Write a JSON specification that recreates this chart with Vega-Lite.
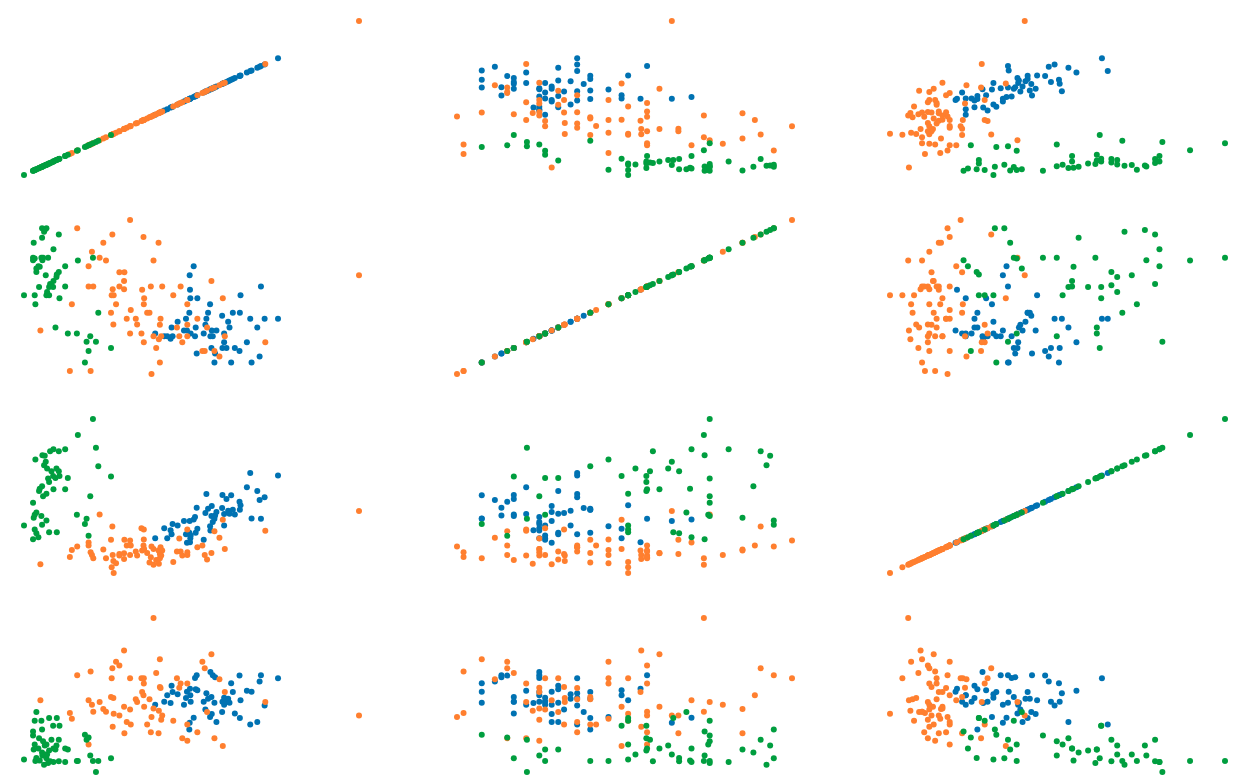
{
  "$schema": "https://vega.github.io/schema/vega-lite/v6.json",
  "padding": {"left": 21, "top": 18, "right": 0, "bottom": 0},
  "bounds": "flush",
  "spacing": {"row": 45, "column": 98},
  "config": {"view": {"stroke": null}},
  "data": {"values": [
{"v1":39.3,"v2":12.1,"v3":10.4,"v4":20.1,"s":"b"},
{"v1":42.0,"v2":11.3,"v3":13.4,"v4":21.0,"s":"b"},
{"v1":42.9,"v2":11.3,"v3":10.4,"v4":22.9,"s":"b"},
{"v1":43.9,"v2":10.5,"v3":12.8,"v4":20.6,"s":"b"},
{"v1":44.2,"v2":13.9,"v3":11.6,"v4":25.8,"s":"b"},
{"v1":44.5,"v2":11.3,"v3":14.6,"v4":23.9,"s":"b"},
{"v1":46.0,"v2":15.6,"v3":14.2,"v4":23.2,"s":"b"},
{"v1":47.9,"v2":13.0,"v3":15.5,"v4":20.1,"s":"b"},
{"v1":48.5,"v2":16.5,"v3":11.6,"v4":22.1,"s":"b"},
{"v1":48.8,"v2":13.0,"v3":9.0,"v4":24.0,"s":"b"},
{"v1":49.5,"v2":18.3,"v3":12.0,"v4":12.7,"s":"b"},
{"v1":49.6,"v2":29.5,"v3":15.5,"v4":14.7,"s":"b"},
{"v1":49.7,"v2":25.2,"v3":9.2,"v4":24.9,"s":"b"},
{"v1":49.8,"v2":22.6,"v3":10.4,"v4":22.9,"s":"b"},
{"v1":49.9,"v2":12.1,"v3":11.2,"v4":21.0,"s":"b"},
{"v1":50.8,"v2":32.2,"v3":16.0,"v4":16.2,"s":"b"},
{"v1":51.2,"v2":11.3,"v3":16.7,"v4":28.1,"s":"b"},
{"v1":51.4,"v2":13.9,"v3":12.0,"v4":24.7,"s":"b"},
{"v1":51.7,"v2":6.1,"v3":19.5,"v4":28.9,"s":"b"},
{"v1":51.9,"v2":22.6,"v3":13.2,"v4":24.4,"s":"b"},
{"v1":53.8,"v2":12.1,"v3":9.9,"v4":21.0,"s":"b"},
{"v1":54.3,"v2":14.7,"v3":17.9,"v4":18.7,"s":"b"},
{"v1":54.6,"v2":16.5,"v3":23.6,"v4":23.5,"s":"b"},
{"v1":55.1,"v2":18.3,"v3":19.2,"v4":21.9,"s":"b"},
{"v1":55.7,"v2":20.8,"v3":14.0,"v4":16.4,"s":"b"},
{"v1":55.8,"v2":11.3,"v3":12.7,"v4":29.9,"s":"b"},
{"v1":56.1,"v2":7.8,"v3":17.0,"v4":22.4,"s":"b"},
{"v1":56.2,"v2":13.0,"v3":20.0,"v4":17.3,"s":"b"},
{"v1":56.5,"v2":11.3,"v3":15.2,"v4":28.9,"s":"b"},
{"v1":57.0,"v2":3.4,"v3":16.2,"v4":20.7,"s":"b"},
{"v1":57.2,"v2":6.1,"v3":17.2,"v4":28.3,"s":"b"},
{"v1":57.6,"v2":13.0,"v3":18.2,"v4":14.9,"s":"b"},
{"v1":59.3,"v2":17.4,"v3":19.4,"v4":17.9,"s":"b"},
{"v1":59.4,"v2":7.8,"v3":23.3,"v4":21.0,"s":"b"},
{"v1":59.9,"v2":12.1,"v3":14.2,"v4":22.2,"s":"b"},
{"v1":59.9,"v2":9.5,"v3":17.6,"v4":20.1,"s":"b"},
{"v1":60.6,"v2":7.8,"v3":22.1,"v4":21.0,"s":"b"},
{"v1":61.1,"v2":15.6,"v3":18.6,"v4":21.9,"s":"b"},
{"v1":61.5,"v2":13.9,"v3":17.7,"v4":20.7,"s":"b"},
{"v1":62.0,"v2":3.4,"v3":23.2,"v4":26.5,"s":"b"},
{"v1":62.5,"v2":18.3,"v3":18.9,"v4":23.9,"s":"b"},
{"v1":63.1,"v2":7.8,"v3":17.5,"v4":17.5,"s":"b"},
{"v1":64.5,"v2":6.9,"v3":21.3,"v4":28.8,"s":"b"},
{"v1":64.6,"v2":18.3,"v3":18.9,"v4":16.1,"s":"b"},
{"v1":64.8,"v2":23.5,"v3":20.2,"v4":21.4,"s":"b"},
{"v1":66.7,"v2":9.5,"v3":25.6,"v4":24.3,"s":"b"},
{"v1":67.7,"v2":16.5,"v3":29.9,"v4":14.2,"s":"b"},
{"v1":68.1,"v2":3.4,"v3":16.3,"v4":24.0,"s":"b"},
{"v1":69.8,"v2":13.9,"v3":24.5,"v4":14.9,"s":"b"},
{"v1":70.5,"v2":5.2,"v3":21.8,"v4":27.0,"s":"b"},
{"v1":70.9,"v2":26.1,"v3":16.2,"v4":28.9,"s":"b"},
{"v1":72.0,"v2":16.5,"v3":22.6,"v4":19.9,"s":"b"},
{"v1":76.0,"v2":16.5,"v3":29.1,"v4":28.0,"s":"b"},
{"v1":5.0,"v2":13.0,"v3":2.6,"v4":21.4,"s":"o"},
{"v1":13.8,"v2":0.9,"v3":4.8,"v4":17.6,"s":"o"},
{"v1":14.4,"v2":20.8,"v3":6.9,"v4":15.9,"s":"o"},
{"v1":16.0,"v2":43.5,"v3":7.9,"v4":28.9,"s":"o"},
{"v1":19.4,"v2":32.2,"v3":9.1,"v4":21.4,"s":"o"},
{"v1":19.4,"v2":26.1,"v3":8.2,"v4":8.2,"s":"o"},
{"v1":20.0,"v2":0.9,"v3":6.2,"v4":30.0,"s":"o"},
{"v1":20.4,"v2":36.5,"v3":5.4,"v4":20.1,"s":"o"},
{"v1":20.8,"v2":26.1,"v3":4.4,"v4":18.0,"s":"o"},
{"v1":22.7,"v2":34.7,"v3":17.5,"v4":20.9,"s":"o"},
{"v1":23.8,"v2":39.2,"v3":7.0,"v4":18.8,"s":"o"},
{"v1":24.6,"v2":33.9,"v3":4.4,"v4":18.0,"s":"o"},
{"v1":26.1,"v2":18.3,"v3":9.9,"v4":22.4,"s":"o"},
{"v1":26.3,"v2":23.5,"v3":1.7,"v4":28.0,"s":"o"},
{"v1":26.5,"v2":41.7,"v3":13.9,"v4":31.0,"s":"o"},
{"v1":26.6,"v2":25.3,"v3":5.4,"v4":13.5,"s":"o"},
{"v1":26.8,"v2":14.8,"v3":3.6,"v4":22.1,"s":"o"},
{"v1":26.9,"v2":23.5,"v3":0.0,"v4":17.4,"s":"o"},
{"v1":27.6,"v2":20.8,"v3":2.9,"v4":32.9,"s":"o"},
{"v1":28.6,"v2":30.4,"v3":5.7,"v4":16.9,"s":"o"},
{"v1":28.6,"v2":26.1,"v3":5.2,"v4":31.8,"s":"o"},
{"v1":30.0,"v2":27.8,"v3":5.9,"v4":19.5,"s":"o"},
{"v1":30.0,"v2":25.3,"v3":4.2,"v4":36.3,"s":"o"},
{"v1":30.1,"v2":30.4,"v3":9.9,"v4":11.6,"s":"o"},
{"v1":30.8,"v2":16.5,"v3":8.2,"v4":14.9,"s":"o"},
{"v1":31.8,"v2":46.0,"v3":9.7,"v4":28.0,"s":"o"},
{"v1":31.8,"v2":12.1,"v3":5.4,"v4":18.7,"s":"o"},
{"v1":32.0,"v2":19.1,"v3":8.2,"v4":14.2,"s":"o"},
{"v1":33.5,"v2":16.5,"v3":6.4,"v4":21.7,"s":"o"},
{"v1":33.9,"v2":14.8,"v3":5.2,"v4":20.9,"s":"o"},
{"v1":35.2,"v2":12.1,"v3":13.4,"v4":28.0,"s":"o"},
{"v1":35.4,"v2":25.2,"v3":6.7,"v4":23.9,"s":"o"},
{"v1":35.8,"v2":40.9,"v3":8.2,"v4":22.9,"s":"o"},
{"v1":35.9,"v2":20.8,"v3":10.0,"v4":28.0,"s":"o"},
{"v1":35.9,"v2":9.5,"v3":13.0,"v4":26.4,"s":"o"},
{"v1":36.0,"v2":22.6,"v3":7.2,"v4":19.5,"s":"o"},
{"v1":36.9,"v2":18.3,"v3":6.0,"v4":14.2,"s":"o"},
{"v1":37.6,"v2":18.3,"v3":3.1,"v4":21.7,"s":"o"},
{"v1":38.0,"v2":26.1,"v3":4.7,"v4":11.9,"s":"o"},
{"v1":38.2,"v2":0.0,"v3":7.9,"v4":16.4,"s":"o"},
{"v1":38.8,"v2":33.9,"v3":2.5,"v4":46.0,"s":"o"},
{"v1":38.8,"v2":11.3,"v3":7.2,"v4":19.0,"s":"o"},
{"v1":39.6,"v2":7.8,"v3":3.9,"v4":29.6,"s":"o"},
{"v1":40.3,"v2":39.2,"v3":6.7,"v4":11.6,"s":"o"},
{"v1":40.4,"v2":10.4,"v3":2.8,"v4":18.3,"s":"o"},
{"v1":40.7,"v2":14.7,"v3":5.7,"v4":25.4,"s":"o"},
{"v1":40.7,"v2":3.4,"v3":4.4,"v4":33.7,"s":"o"},
{"v1":40.9,"v2":16.5,"v3":7.7,"v4":25.1,"s":"o"},
{"v1":41.1,"v2":11.3,"v3":5.2,"v4":15.6,"s":"o"},
{"v1":41.4,"v2":26.1,"v3":6.7,"v4":16.9,"s":"o"},
{"v1":44.7,"v2":23.5,"v3":3.3,"v4":15.3,"s":"o"},
{"v1":45.8,"v2":13.9,"v3":6.4,"v4":28.0,"s":"o"},
{"v1":46.5,"v2":11.3,"v3":10.3,"v4":25.2,"s":"o"},
{"v1":46.9,"v2":26.1,"v3":6.4,"v4":26.4,"s":"o"},
{"v1":47.4,"v2":9.5,"v3":5.2,"v4":10.1,"s":"o"},
{"v1":48.9,"v2":20.8,"v3":5.4,"v4":26.4,"s":"o"},
{"v1":48.9,"v2":14.7,"v3":13.0,"v4":14.2,"s":"o"},
{"v1":48.9,"v2":11.3,"v3":6.2,"v4":9.3,"s":"o"},
{"v1":51.9,"v2":16.5,"v3":7.7,"v4":11.9,"s":"o"},
{"v1":53.4,"v2":6.9,"v3":8.2,"v4":32.9,"s":"o"},
{"v1":54.1,"v2":6.9,"v3":5.4,"v4":31.0,"s":"o"},
{"v1":54.8,"v2":13.9,"v3":4.0,"v4":17.9,"s":"o"},
{"v1":56.1,"v2":27.8,"v3":6.0,"v4":35.2,"s":"o"},
{"v1":57.0,"v2":6.9,"v3":12.5,"v4":10.1,"s":"o"},
{"v1":58.5,"v2":5.2,"v3":10.5,"v4":27.7,"s":"o"},
{"v1":59.5,"v2":22.6,"v3":15.9,"v4":7.8,"s":"o"},
{"v1":60.1,"v2":11.3,"v3":7.2,"v4":23.9,"s":"o"},
{"v1":72.2,"v2":9.5,"v3":12.6,"v4":20.9,"s":"o"},
{"v1":100.2,"v2":29.5,"v3":18.5,"v4":16.9,"s":"o"},
{"v1":0.1,"v2":23.5,"v3":14.2,"v4":3.7,"s":"g"},
{"v1":2.8,"v2":34.7,"v3":21.0,"v4":10.9,"s":"g"},
{"v1":2.8,"v2":34.0,"v3":10.1,"v4":12.1,"s":"g"},
{"v1":3.0,"v2":39.2,"v3":16.5,"v4":6.7,"s":"g"},
{"v1":3.3,"v2":34.5,"v3":17.4,"v4":8.2,"s":"g"},
{"v1":3.3,"v2":23.5,"v3":13.0,"v4":15.3,"s":"g"},
{"v1":3.5,"v2":20.8,"v3":33.9,"v4":3.3,"s":"g"},
{"v1":3.8,"v2":30.5,"v3":11.9,"v4":4.2,"s":"g"},
{"v1":3.8,"v2":31.5,"v3":18.1,"v4":17.9,"s":"g"},
{"v1":4.4,"v2":32.2,"v3":10.7,"v4":7.0,"s":"g"},
{"v1":4.6,"v2":26.0,"v3":24.5,"v4":10.1,"s":"g"},
{"v1":4.8,"v2":32.0,"v3":25.2,"v4":3.4,"s":"g"},
{"v1":5.3,"v2":34.7,"v3":17.0,"v4":15.3,"s":"g"},
{"v1":5.5,"v2":43.5,"v3":14.4,"v4":12.7,"s":"g"},
{"v1":5.5,"v2":40.7,"v3":25.9,"v4":5.8,"s":"g"},
{"v1":5.6,"v2":34.0,"v3":35.2,"v4":4.9,"s":"g"},
{"v1":5.8,"v2":34.7,"v3":22.9,"v4":9.2,"s":"g"},
{"v1":6.1,"v2":42.5,"v3":32.2,"v4":2.2,"s":"g"},
{"v1":6.3,"v2":43.0,"v3":35.0,"v4":7.9,"s":"g"},
{"v1":6.6,"v2":29.5,"v3":33.2,"v4":5.2,"s":"g"},
{"v1":6.8,"v2":43.5,"v3":15.7,"v4":4.1,"s":"g"},
{"v1":6.8,"v2":23.5,"v3":23.7,"v4":8.2,"s":"g"},
{"v1":7.0,"v2":24.5,"v3":31.2,"v4":5.2,"s":"g"},
{"v1":7.3,"v2":34.7,"v3":28.2,"v4":2.7,"s":"g"},
{"v1":7.6,"v2":26.0,"v3":27.2,"v4":6.4,"s":"g"},
{"v1":7.6,"v2":23.5,"v3":12.2,"v4":16.1,"s":"g"},
{"v1":7.9,"v2":26.9,"v3":36.4,"v4":3.2,"s":"g"},
{"v1":8.3,"v2":26.5,"v3":30.4,"v4":9.6,"s":"g"},
{"v1":8.8,"v2":26.0,"v3":29.0,"v4":13.8,"s":"g"},
{"v1":8.9,"v2":37.3,"v3":37.0,"v4":3.0,"s":"g"},
{"v1":8.9,"v2":27.8,"v3":25.0,"v4":7.0,"s":"g"},
{"v1":9.5,"v2":13.9,"v3":28.4,"v4":6.7,"s":"g"},
{"v1":9.8,"v2":29.0,"v3":31.2,"v4":7.9,"s":"g"},
{"v1":9.9,"v2":29.7,"v3":12.2,"v4":16.1,"s":"g"},
{"v1":10.5,"v2":41.7,"v3":36.4,"v4":9.6,"s":"g"},
{"v1":10.5,"v2":30.5,"v3":30.4,"v4":3.2,"s":"g"},
{"v1":10.7,"v2":22.6,"v3":29.0,"v4":13.8,"s":"g"},
{"v1":12.4,"v2":32.2,"v3":37.0,"v4":3.0,"s":"g"},
{"v1":12.4,"v2":26.1,"v3":25.0,"v4":7.0,"s":"g"},
{"v1":13.2,"v2":12.1,"v3":28.4,"v4":6.7,"s":"g"},
{"v1":15.9,"v2":12.1,"v3":17.4,"v4":3.3,"s":"g"},
{"v1":16.2,"v2":33.9,"v3":41.2,"v4":3.3,"s":"g"},
{"v1":18.3,"v2":3.4,"v3":14.6,"v4":11.1,"s":"g"},
{"v1":18.8,"v2":9.6,"v3":16.2,"v4":9.6,"s":"g"},
{"v1":19.4,"v2":6.9,"v3":11.1,"v4":10.3,"s":"g"},
{"v1":19.9,"v2":11.3,"v3":22.9,"v4":4.9,"s":"g"},
{"v1":20.7,"v2":34.7,"v3":46.0,"v4":3.3,"s":"g"},
{"v1":21.6,"v2":9.6,"v3":37.4,"v4":0.0,"s":"g"},
{"v1":22.3,"v2":18.3,"v3":31.9,"v4":3.3,"s":"g"},
{"v1":26.1,"v2":7.8,"v3":28.8,"v4":4.1,"s":"g"}
  ]},
  "repeat": {"row": ["v1", "v2", "v3", "v4"], "column": ["v1", "v2", "v3"]},
  "spec": {
    "width": 335,
    "height": 154,
    "mark": {"type": "circle", "size": 36, "opacity": 1},
    "encoding": {
      "x": {"field": {"repeat": "column"}, "type": "quantitative", "axis": null, "scale": {"zero": false, "nice": false}},
      "y": {"field": {"repeat": "row"}, "type": "quantitative", "axis": null, "scale": {"zero": false, "nice": false}},
      "color": {"field": "s", "type": "nominal", "legend": null, "scale": {"domain": ["b", "o", "g"], "range": ["#0072B2", "#FF7F2F", "#009E3F"]}}
    }
  }
}
